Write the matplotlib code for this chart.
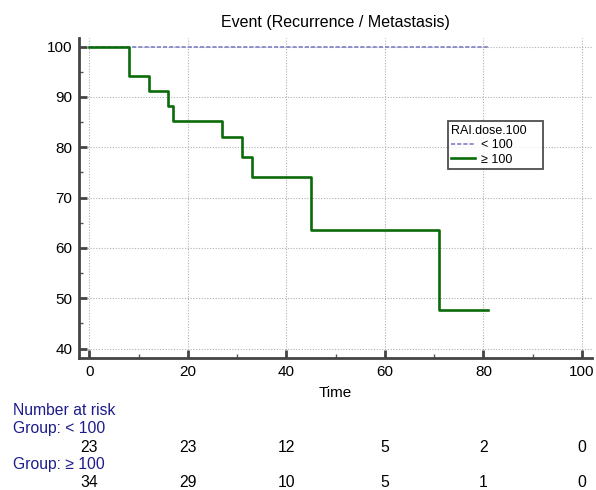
import matplotlib
matplotlib.use("Agg")
import matplotlib.pyplot as plt
import matplotlib.transforms as mtransforms
from matplotlib.ticker import MultipleLocator

plt.rcParams['font.family'] = ['Liberation Sans', 'DejaVu Sans']

# ---- data ----
times_lt = [0, 81]
surv_lt = [100, 100]
times_ge = [0, 8, 12, 16, 17, 27, 31, 33, 45, 71, 81]
surv_ge = [100, 94.1, 91.2, 88.2, 85.3, 82.1, 78.1, 74.0, 63.6, 47.7, 47.7]
risk_times = [0, 20, 40, 60, 80, 100]
risk_lt = [23, 23, 12, 5, 2, 0]
risk_ge = [34, 29, 10, 5, 1, 0]
group_labels = ["< 100", "\u2265 100"]
title = "Event (Recurrence / Metastasis)"

fig = plt.figure(figsize=(5.96, 4.90), dpi=100)
W, H = 596, 490
l, r, t, b = 79.3, 591.7, 38, 357.7
ax = fig.add_axes([l / W, 1 - b / H, (r - l) / W, (b - t) / H])

ax.step(times_lt, surv_lt, where='post', color='#7f7fc4', lw=1.2,
        linestyle=(0, (2.5, 1.2)), label=group_labels[0], zorder=3)
ax.step(times_ge, surv_ge, where='post', color='#0a6b0a', lw=1.9,
        label=group_labels[1], zorder=4)

ax.set_xlim(-2.07, 102)
ax.set_ylim(38.2, 101.7)
ax.xaxis.set_major_locator(MultipleLocator(20))
ax.xaxis.set_minor_locator(MultipleLocator(10))
ax.yaxis.set_major_locator(MultipleLocator(10))
ax.yaxis.set_minor_locator(MultipleLocator(5))

for s in ['top', 'right']:
    ax.spines[s].set_visible(False)
for s in ['left', 'bottom']:
    ax.spines[s].set_color('#444444')
    ax.spines[s].set_linewidth(2.0)

ax.tick_params(which='major', direction='in', length=6, width=2, color='#444444',
               labelsize=11, pad=5)
ax.tick_params(which='minor', direction='in', length=3, width=1, color='#555555')
ax.grid(True, which='major', linestyle=(0, (1, 1.5)), color='#b0b0b0', lw=0.8)
ax.set_axisbelow(True)

ax.set_title(title, fontsize=11.5, pad=8)
ax.set_xlabel("Time", fontsize=11, labelpad=5)

axw = r - l
axh = b - t
x0 = (447.7 - l) / axw
y_top = (b - 121) / axh
lw_ = 95.6 / axw
lh_ = 49 / axh
leg = ax.legend(title="RAI.dose.100", loc='upper left',
                bbox_to_anchor=(x0, y_top - lh_, lw_, lh_), mode='expand',
                fontsize=9, title_fontsize=9, frameon=True, fancybox=False,
                handlelength=1.9, handletextpad=0.5, borderpad=0.3,
                labelspacing=0.2, alignment='left', borderaxespad=0)
leg.get_frame().set_edgecolor('#222222')
leg.get_frame().set_linewidth(1.3)
leg.set_zorder(10)

# ---- number at risk table ----
blue = '#1c1c8c'
trans = mtransforms.blended_transform_factory(ax.transData, fig.transFigure)
fs = 11.3
fig.text(13 / W, 1 - 410 / H, "Number at risk", color=blue, fontsize=fs, va='center', ha='left')
fig.text(13 / W, 1 - 428 / H, "Group: " + group_labels[0], color=blue, fontsize=fs, va='center', ha='left')
fig.text(13 / W, 1 - 464 / H, "Group: " + group_labels[1], color=blue, fontsize=fs, va='center', ha='left')
for tt, n in zip(risk_times, risk_lt):
    ax.text(tt, 1 - 447 / H, str(n), transform=trans, ha='center', va='center', fontsize=fs)
for tt, n in zip(risk_times, risk_ge):
    ax.text(tt, 1 - 482 / H, str(n), transform=trans, ha='center', va='center', fontsize=fs)

fig.savefig("out.png", dpi=100)
